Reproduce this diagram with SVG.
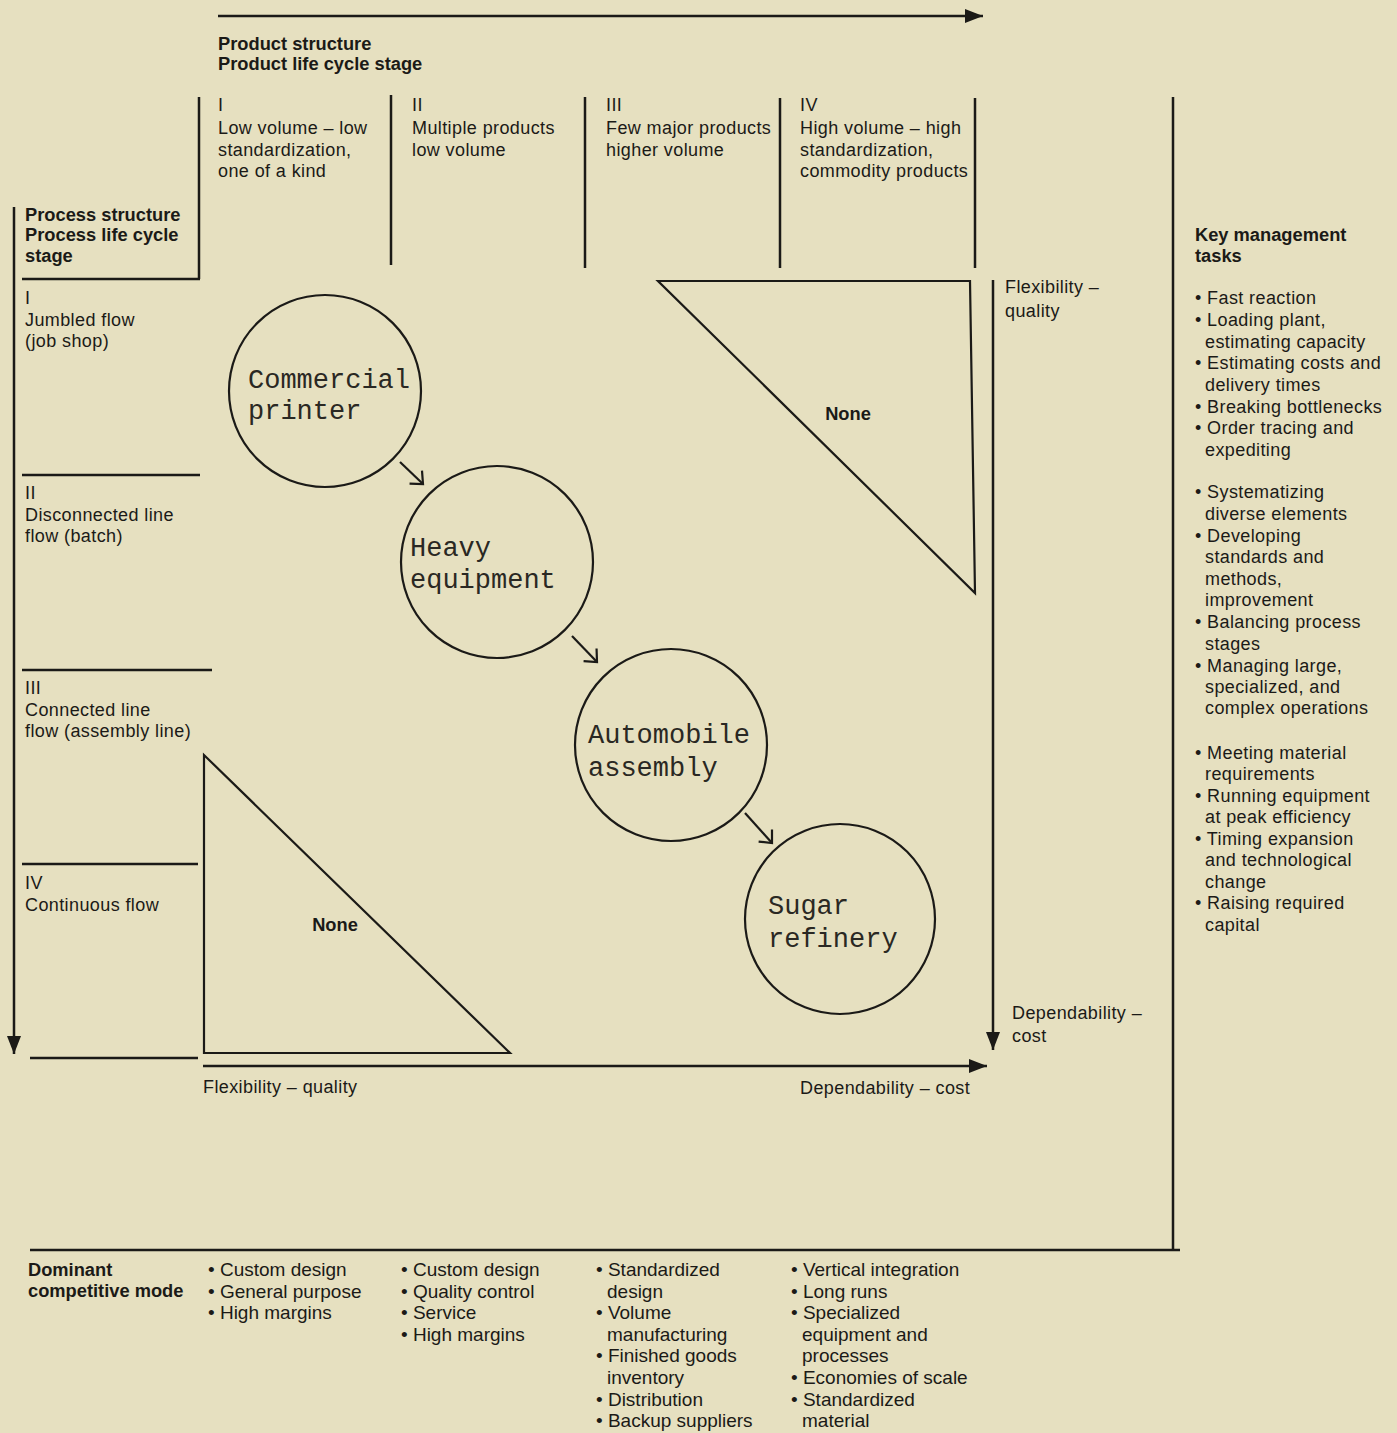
<svg xmlns="http://www.w3.org/2000/svg" width="1397" height="1433" viewBox="0 0 1397 1433">
<defs>
<style>
.bg{fill:#e6e0c0}
.ln{stroke:#1b1a17;stroke-width:2.5;fill:none}
.tx{font-family:"Liberation Sans",Arial,sans-serif;font-size:18px;letter-spacing:0.4px;fill:#1b1a17}
.bd{font-family:"Liberation Sans",Arial,sans-serif;font-size:18.3px;font-weight:bold;fill:#1b1a17}
.bt{font-family:"Liberation Sans",Arial,sans-serif;font-size:19px;fill:#1b1a17}
.mono{font-family:"Liberation Mono","Courier New",monospace;font-size:27px;fill:#2a2823}
.node{stroke:#1b1a17;stroke-width:2.2;fill:none}
.arr{stroke:#1b1a17;stroke-width:2.2;fill:none}
</style>
<marker id="head" markerUnits="userSpaceOnUse" markerWidth="20" markerHeight="16" refX="18" refY="7" orient="auto">
<path d="M0,0 L18,7 L0,14 z" fill="#1b1a17"/>
</marker>
<marker id="vhead" markerUnits="userSpaceOnUse" markerWidth="24" markerHeight="24" refX="12" refY="12" orient="auto" overflow="visible">
<path d="M2,3 L12,12 L2,21" stroke="#1b1a17" stroke-width="2.2" fill="none"/>
</marker>
</defs>
<rect class="bg" x="0" y="0" width="1397" height="1433"/>

<g id="frame">
<line class="ln" x1="218" y1="16" x2="983" y2="16" stroke-width="3.2" marker-end="url(#head)"/>
<line class="ln" x1="199" y1="97" x2="199" y2="279"/>
<line class="ln" x1="22" y1="279" x2="200" y2="279"/>
<line class="ln" x1="391" y1="95" x2="391" y2="265"/>
<line class="ln" x1="585" y1="97" x2="585" y2="268"/>
<line class="ln" x1="780" y1="98" x2="780" y2="268"/>
<line class="ln" x1="975" y1="98" x2="975" y2="268"/>
<line class="ln" x1="1173" y1="97" x2="1173" y2="1251"/>
<line class="ln" x1="30" y1="1250" x2="1180" y2="1250" stroke-width="3"/>
<line class="ln" x1="14" y1="207" x2="14" y2="1054" marker-end="url(#head)"/>
<line class="ln" x1="22" y1="475" x2="200" y2="475"/>
<line class="ln" x1="22" y1="670" x2="212" y2="670"/>
<line class="ln" x1="22" y1="864" x2="198" y2="864"/>
<line class="ln" x1="30" y1="1058" x2="198" y2="1058"/>
<line class="ln" x1="993" y1="280" x2="993" y2="1050" marker-end="url(#head)"/>
<line class="ln" x1="203" y1="1066" x2="987" y2="1066" stroke-width="3" marker-end="url(#head)"/>
</g>

<g id="header-text">
<text class="bd" x="218" y="50">Product structure</text>
<text class="bd" x="218" y="70">Product life cycle stage</text>
<text class="tx" x="218" y="111">I</text>
<text class="tx" x="218" y="134">Low volume – low</text>
<text class="tx" x="218" y="156">standardization,</text>
<text class="tx" x="218" y="177">one of a kind</text>
<text class="tx" x="412" y="111">II</text>
<text class="tx" x="412" y="134">Multiple products</text>
<text class="tx" x="412" y="156">low volume</text>
<text class="tx" x="606" y="111">III</text>
<text class="tx" x="606" y="134">Few major products</text>
<text class="tx" x="606" y="156">higher volume</text>
<text class="tx" x="800" y="111">IV</text>
<text class="tx" x="800" y="134">High volume – high</text>
<text class="tx" x="800" y="156">standardization,</text>
<text class="tx" x="800" y="177">commodity products</text>
</g>

<g id="process-text">
<text class="bd" x="25" y="221">Process structure</text>
<text class="bd" x="25" y="241">Process life cycle</text>
<text class="bd" x="25" y="262">stage</text>
<text class="tx" x="25" y="304">I</text>
<text class="tx" x="25" y="326">Jumbled flow</text>
<text class="tx" x="25" y="347">(job shop)</text>
<text class="tx" x="25" y="499">II</text>
<text class="tx" x="25" y="521">Disconnected line</text>
<text class="tx" x="25" y="542">flow (batch)</text>
<text class="tx" x="25" y="694">III</text>
<text class="tx" x="25" y="716">Connected line</text>
<text class="tx" x="25" y="737">flow (assembly line)</text>
<text class="tx" x="25" y="889">IV</text>
<text class="tx" x="25" y="911">Continuous flow</text>
</g>

<g id="axis-labels">
<text class="tx" x="203" y="1093">Flexibility – quality</text>
<text class="tx" x="800" y="1094">Dependability – cost</text>
<text class="tx" x="1005" y="293">Flexibility –</text>
<text class="tx" x="1005" y="317">quality</text>
<text class="tx" x="1012" y="1019">Dependability –</text>
<text class="tx" x="1012" y="1042">cost</text>
</g>

<g id="none-upper">
<path class="node" d="M658,281 L970,281 L975,593 Z" stroke-width="2.5"/>
<text class="bd" x="848" y="420" text-anchor="middle" font-size="16">None</text>
</g>
<g id="none-lower">
<path class="node" d="M204,755 L204,1053 L510,1053 Z" stroke-width="2.5"/>
<text class="bd" x="335" y="931" text-anchor="middle" font-size="16">None</text>
</g>

<g id="commercial-printer">
<circle class="node" cx="325" cy="391" r="96"/>
<text class="mono" x="248" y="388">Commercial</text>
<text class="mono" x="248" y="419">printer</text>
</g>
<g id="heavy-equipment">
<circle class="node" cx="497" cy="562" r="96"/>
<text class="mono" x="410" y="556">Heavy</text>
<text class="mono" x="410" y="588">equipment</text>
</g>
<g id="automobile-assembly">
<circle class="node" cx="671" cy="745" r="96"/>
<text class="mono" x="588" y="743">Automobile</text>
<text class="mono" x="588" y="776">assembly</text>
</g>
<g id="sugar-refinery">
<circle class="node" cx="840" cy="919" r="95"/>
<text class="mono" x="768" y="914">Sugar</text>
<text class="mono" x="768" y="947">refinery</text>
</g>

<g id="connectors">
<line class="arr" x1="400" y1="462" x2="423" y2="484" marker-end="url(#vhead)"/>
<line class="arr" x1="572" y1="636" x2="597" y2="662" marker-end="url(#vhead)"/>
<line class="arr" x1="745" y1="813" x2="772" y2="843" marker-end="url(#vhead)"/>
</g>

<g id="key-tasks">
<text class="bd" x="1195" y="241">Key management</text>
<text class="bd" x="1195" y="262">tasks</text>
<text class="tx" x="1195" y="304">• Fast reaction</text>
<text class="tx" x="1195" y="326">• Loading plant,</text>
<text class="tx" x="1205" y="348">estimating capacity</text>
<text class="tx" x="1195" y="369">• Estimating costs and</text>
<text class="tx" x="1205" y="391">delivery times</text>
<text class="tx" x="1195" y="413">• Breaking bottlenecks</text>
<text class="tx" x="1195" y="434">• Order tracing and</text>
<text class="tx" x="1205" y="456">expediting</text>
<text class="tx" x="1195" y="498">• Systematizing</text>
<text class="tx" x="1205" y="520">diverse elements</text>
<text class="tx" x="1195" y="542">• Developing</text>
<text class="tx" x="1205" y="563">standards and</text>
<text class="tx" x="1205" y="585">methods,</text>
<text class="tx" x="1205" y="606">improvement</text>
<text class="tx" x="1195" y="628">• Balancing process</text>
<text class="tx" x="1205" y="650">stages</text>
<text class="tx" x="1195" y="672">• Managing large,</text>
<text class="tx" x="1205" y="693">specialized, and</text>
<text class="tx" x="1205" y="714">complex operations</text>
<text class="tx" x="1195" y="759">• Meeting material</text>
<text class="tx" x="1205" y="780">requirements</text>
<text class="tx" x="1195" y="802">• Running equipment</text>
<text class="tx" x="1205" y="823">at peak efficiency</text>
<text class="tx" x="1195" y="845">• Timing expansion</text>
<text class="tx" x="1205" y="866">and technological</text>
<text class="tx" x="1205" y="888">change</text>
<text class="tx" x="1195" y="909">• Raising required</text>
<text class="tx" x="1205" y="931">capital</text>
</g>

<g id="competitive-mode">
<text class="bd" x="28" y="1276">Dominant</text>
<text class="bd" x="28" y="1297">competitive mode</text>
<text class="bt" x="208" y="1276">• Custom design</text>
<text class="bt" x="208" y="1298">• General purpose</text>
<text class="bt" x="208" y="1319">• High margins</text>
<text class="bt" x="401" y="1276">• Custom design</text>
<text class="bt" x="401" y="1298">• Quality control</text>
<text class="bt" x="401" y="1319">• Service</text>
<text class="bt" x="401" y="1341">• High margins</text>
<text class="bt" x="596" y="1276">• Standardized</text>
<text class="bt" x="607" y="1298">design</text>
<text class="bt" x="596" y="1319">• Volume</text>
<text class="bt" x="607" y="1341">manufacturing</text>
<text class="bt" x="596" y="1362">• Finished goods</text>
<text class="bt" x="607" y="1384">inventory</text>
<text class="bt" x="596" y="1406">• Distribution</text>
<text class="bt" x="596" y="1427">• Backup suppliers</text>
<text class="bt" x="791" y="1276">• Vertical integration</text>
<text class="bt" x="791" y="1298">• Long runs</text>
<text class="bt" x="791" y="1319">• Specialized</text>
<text class="bt" x="802" y="1341">equipment and</text>
<text class="bt" x="802" y="1362">processes</text>
<text class="bt" x="791" y="1384">• Economies of scale</text>
<text class="bt" x="791" y="1406">• Standardized</text>
<text class="bt" x="802" y="1427">material</text>
</g>
</svg>
